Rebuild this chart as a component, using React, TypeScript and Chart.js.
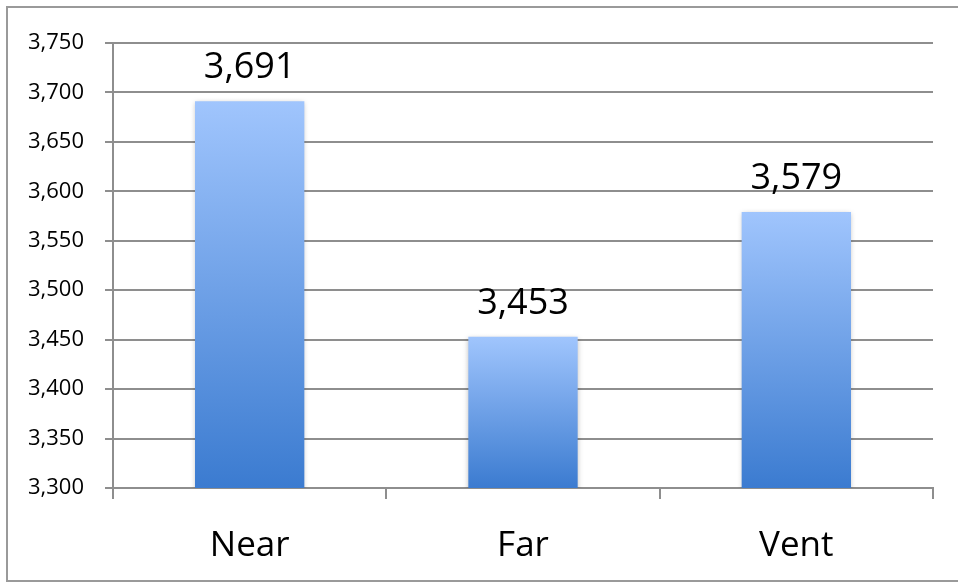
import React, { useEffect, useRef } from "react";
import { Chart, registerables } from "chart.js";

Chart.register(...registerables);

const categories = ["Near", "Far", "Vent"];
const values = [3691, 3453, 3579];
const yMin = 3300;
const yMax = 3750;
const yStep = 50;

const FONT = "'Open Sans', 'DejaVu Sans', sans-serif";
const GRID = "#8e8e8e";

const fmt = (v: number) => v.toLocaleString("en-US");

export default function App() {
  const ref = useRef<HTMLCanvasElement | null>(null);
  useEffect(() => {
    if (!ref.current) return;
    const borderPlugin = {
      id: "outerBorder",
      beforeDraw(chart: any) {
        const ctx = chart.ctx;
        ctx.save();
        ctx.fillStyle = "#ffffff";
        ctx.fillRect(0, 0, chart.width, chart.height);
        ctx.strokeStyle = "#9a9a9a";
        ctx.lineWidth = 2;
        ctx.beginPath();
        ctx.moveTo(chart.width + 5, 7);
        ctx.lineTo(7, 7);
        ctx.lineTo(7, 581);
        ctx.lineTo(chart.width + 5, 581);
        ctx.stroke();
        ctx.restore();
      },
    };
    const shadowPlugin = {
      id: "barShadow",
      beforeDatasetsDraw(chart: any) {
        const ctx = chart.ctx;
        ctx.save();
        ctx.shadowColor = "rgba(0,0,0,0.25)";
        ctx.shadowBlur = 5;
        ctx.shadowOffsetX = 0;
        ctx.shadowOffsetY = 1;
      },
      afterDatasetsDraw(chart: any) {
        chart.ctx.restore();
      },
    };
    const labelPlugin = {
      id: "valueLabels",
      afterDatasetsDraw(chart: any) {
        const ctx = chart.ctx;
        const meta = chart.getDatasetMeta(0);
        ctx.save();
        ctx.fillStyle = "#000000";
        ctx.font = `36px ${FONT}`;
        ctx.textAlign = "center";
        ctx.textBaseline = "alphabetic";
        meta.data.forEach((bar: any, i: number) => {
          ctx.fillText(fmt(values[i]), bar.x, bar.y - 23);
        });
        ctx.restore();
      },
    };
    const chart = new Chart(ref.current, {
      type: "bar",
      data: {
        labels: categories,
        datasets: [
          {
            data: values,
            backgroundColor: (c: any) => {
              const ch = c.chart;
              const area = ch.chartArea;
              if (!area || !ch.scales.y) return "#6b9ee8";
              const top = ch.scales.y.getPixelForValue(values[c.dataIndex]);
              const g = ch.ctx.createLinearGradient(0, top, 0, area.bottom);
              g.addColorStop(0, "#a0c5fd");
              g.addColorStop(1, "#3b7bd0");
              return g;
            },
            borderWidth: 0,
            barPercentage: 0.8,
            categoryPercentage: 0.5,
          },
        ],
      },
      options: {
        responsive: false,
        animation: false,
        devicePixelRatio: 1,
        layout: { padding: { left: 0, right: 25, top: 43, bottom: 0 } },
        plugins: {
          legend: { display: false },
          tooltip: { enabled: false },
        },
        scales: {
          x: {
            offset: true,
            grid: {
              display: true,
              offset: true,
              drawOnChartArea: false,
              drawTicks: true,
              tickLength: 11,
              color: GRID,
              lineWidth: 2,
            },
            border: { display: true, color: GRID, width: 2 },
            ticks: {
              color: "#000000",
              font: { family: FONT, size: 35 },
              padding: 26,
            },
            afterFit: (s: any) => {
              s.height = 95;
            },
          },
          y: {
            min: yMin,
            max: yMax,
            grid: {
              color: GRID,
              lineWidth: 2,
              tickLength: 8,
              drawTicks: true,
            },
            border: { display: true, color: GRID, width: 2 },
            ticks: {
              stepSize: yStep,
              color: "#000000",
              font: { family: FONT, size: 22 },
              padding: 21,
              callback: (v: any) => fmt(Number(v)),
            },
            afterFit: (s: any) => {
              s.width = 113;
            },
          },
        },
      },
      plugins: [borderPlugin, shadowPlugin, labelPlugin],
    } as any);
    return () => chart.destroy();
  }, []);
  return (
    <div style={{ position: "fixed", left: 0, top: 0, width: 958, height: 583 }}>
      <canvas ref={ref} width={958} height={583} style={{ display: "block", width: 958, height: 583 }} />
    </div>
  );
}
